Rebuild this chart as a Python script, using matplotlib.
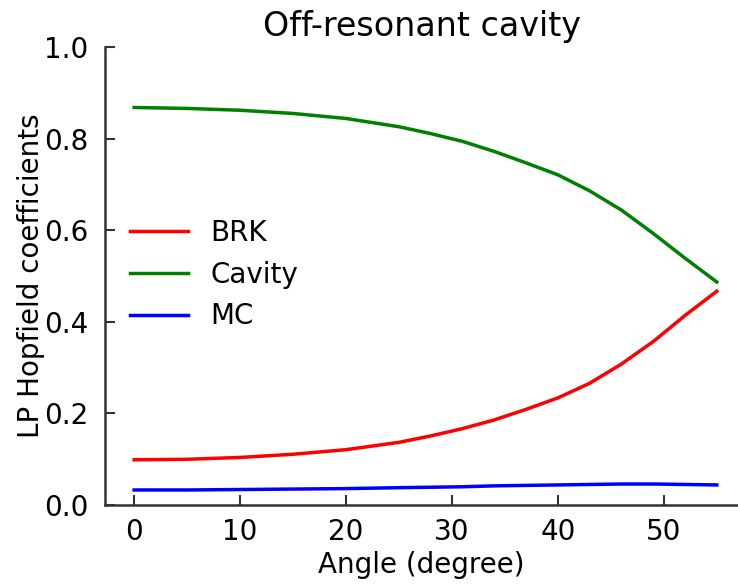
import numpy as np
import matplotlib.pyplot as plt

angle = [0, 5, 10, 15, 20, 25, 28, 31, 34, 37, 40, 43, 46, 49, 52, 55]
brk = [0.099, 0.100, 0.104, 0.111, 0.121, 0.137, 0.151, 0.167, 0.186, 0.209, 0.234, 0.266, 0.308, 0.357, 0.414, 0.467]
cavity = [0.868, 0.866, 0.862, 0.855, 0.844, 0.826, 0.811, 0.794, 0.772, 0.747, 0.721, 0.686, 0.644, 0.593, 0.539, 0.487]
mc = [0.033, 0.033, 0.034, 0.035, 0.036, 0.038, 0.039, 0.040, 0.042, 0.043, 0.044, 0.045, 0.046, 0.046, 0.045, 0.044]

fig = plt.figure(figsize=(7.38, 5.88), dpi=100)
ax = fig.add_axes([0.1423, 0.141, 0.8577, 0.779])

ax.plot(angle, brk, color="red", lw=2.5, label="BRK")
ax.plot(angle, cavity, color="green", lw=2.5, label="Cavity")
ax.plot(angle, mc, color="blue", lw=2.5, label="MC")

ax.set_xlim(-2.75, 57.0)
ax.set_ylim(0, 1.0)
ax.set_xticks([0, 10, 20, 30, 40, 50])
ax.set_yticks([0.0, 0.2, 0.4, 0.6, 0.8, 1.0])

ax.spines["top"].set_visible(False)
ax.spines["right"].set_visible(False)
for s in ["left", "bottom"]:
    ax.spines[s].set_color("#333333")
    ax.spines[s].set_linewidth(1.8)
ax.tick_params(direction="in", length=7, width=1.5, color="#333333", labelsize=20)
ax.tick_params(axis="y", pad=12)
ax.tick_params(axis="x", pad=9)

ax.set_xlabel("Angle (degree)", fontsize=20, labelpad=4)
ax.set_ylabel("LP Hopfield coefficients", fontsize=20, labelpad=-1)
ax.set_title("Off-resonant cavity", fontsize=24, pad=8)

ax.legend(frameon=False, fontsize=20, loc="upper left", bbox_to_anchor=(0.0, 0.68),
          handlelength=2.1, handletextpad=0.8, labelspacing=0.5)

fig.savefig("out.png", dpi=100)
